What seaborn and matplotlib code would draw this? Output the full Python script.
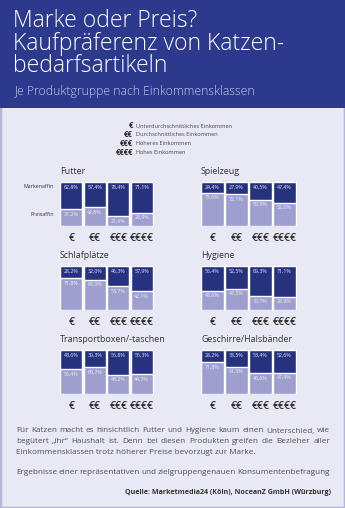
import seaborn as sns
import matplotlib.pyplot as plt
import pandas as pd
from matplotlib.patches import Rectangle

sns.set_style("white")
plt.rcParams['font.family'] = ['Open Sans', 'DejaVu Sans']

# ---------------------------
# Data
einkommen = ['€', '€€', '€€€', '€€€€']
einkommen_namen = ['Unterdurchschnittliches Einkommen', 'Durchschnittliches Einkommen',
                   'Höheres Einkommen', 'Hohes Einkommen']
gruppen = ['Futter', 'Spielzeug', 'Schlafplätze', 'Hygiene',
           'Transportboxen/-taschen', 'Geschirre/Halsbänder']

marke_futter = [62.8, 57.4, 78.4, 71.1]
preis_futter = [37.2, 42.6, 21.6, 28.9]
marke_spielzeug = [24.4, 27.9, 40.5, 47.4]
preis_spielzeug = [75.6, 72.1, 59.5, 52.6]
marke_schlaf = [28.2, 32.0, 46.3, 57.9]
preis_schlaf = [71.8, 68.0, 53.7, 42.1]
marke_hygiene = [56.4, 52.5, 69.3, 71.1]
preis_hygiene = [43.6, 47.5, 30.7, 28.9]
marke_transport = [43.6, 39.3, 56.8, 55.3]
preis_transport = [56.4, 60.7, 43.2, 44.7]
marke_geschirre = [28.2, 38.5, 53.4, 52.6]
preis_geschirre = [71.8, 61.5, 46.6, 47.4]

marke = [marke_futter, marke_spielzeug, marke_schlaf, marke_hygiene, marke_transport, marke_geschirre]
preis = [preis_futter, preis_spielzeug, preis_schlaf, preis_hygiene, preis_transport, preis_geschirre]

text_zeilen = [
    'Für Katzen macht es hinsichtlich Futter und Hygiene kaum einen Unterschied, wie',
    'begütert „ihr“ Haushalt ist. Denn bei diesen Produkten greifen die Bezieher aller',
    'Einkommensklassen trotz höherer Preise bevorzugt zur Marke.',
]
ergebnis = 'Ergebnisse einer repräsentativen und zielgruppengenauen Konsumentenbefragung'
quelle = 'Quelle: Marketmedia24 (Köln), NoceanZ GmbH (Würzburg)'

# ---------------------------
# Colours / layout helpers
page_bg = '#e9e8f5'
header_bg = '#2c398c'
dark = '#27327f'
light = '#9e9ecf'
W, H = 345, 508


def fx(px):
    return px / W


def fy(py):
    return 1 - py / H


fig = plt.figure(figsize=(3.45, 5.08), dpi=100)
fig.patch.set_facecolor(page_bg)

fig.patches.append(Rectangle((0, 0), 1, 1, transform=fig.transFigure, fill=False,
                             edgecolor='#b6b6d9', lw=2.5, zorder=0))
fig.patches.append(Rectangle((0, fy(108)), 1, 108 / H, transform=fig.transFigure,
                             facecolor=header_bg, edgecolor='none', zorder=1))

# Header
for i, t in enumerate(['Marke oder Preis?', 'Kaufpräferenz von Katzen-', 'bedarfsartikeln']):
    fig.text(fx(13), fy(21 + i * 22.5), t, fontsize=16.5, weight='light', color='white',
             va='center', ha='left')
fig.text(fx(14), fy(91), 'Je Produktgruppe nach Einkommensklassen', fontsize=8.7,
         weight='light', color='#c8cdf0', va='center')

# Legend
for i, (sym, name) in enumerate(zip(einkommen, einkommen_namen)):
    y = fy(126 + i * 8.8)
    fig.text(fx(133), y, sym, fontsize=5.6, weight='bold', color='#333333', ha='right', va='center')
    fig.text(fx(136.5), y, name, fontsize=4.1, color='#444444', ha='left', va='center')

# Panels
lefts = [59.5, 200.5]
widths = [94, 96]
bar_tops = [182, 266, 350]
bar_h = 43.5

for i, g in enumerate(gruppen):
    row, col = divmod(i, 2)
    top = bar_tops[row]
    ax = fig.add_axes([fx(lefts[col]), fy(top + bar_h), widths[col] / W, bar_h / H])
    df = pd.DataFrame({'klasse': einkommen, 'marke': marke[i], 'preis': preis[i]})
    df['gesamt'] = df['marke'] + df['preis']
    sns.barplot(data=df, x='klasse', y='gesamt', color=dark, saturation=1, width=0.92, ax=ax)
    sns.barplot(data=df, x='klasse', y='preis', color=light, saturation=1, width=0.92, ax=ax)
    for k, (m, p) in enumerate(zip(df['marke'], df['preis'])):
        ax.text(k, df['gesamt'][k] - 11, f'{m:.1f}%'.replace('.', ','), ha='center', va='center',
                fontsize=3.8, color='#e6e8ff')
        ax.text(k, p - 11, f'{p:.1f}%'.replace('.', ','), ha='center', va='center',
                fontsize=3.8, color='#f2f2fb')
    ax.set_xlim(-0.5, 3.5)
    ax.set_ylim(0, 100)
    ax.set_xlabel('')
    ax.set_ylabel('')
    ax.set_yticks([])
    ax.tick_params(axis='x', length=0, pad=5.5, labelsize=7.5, labelcolor='#2e2e2e')
    for lbl in ax.get_xticklabels():
        lbl.set_fontweight('semibold')
    ax.set_facecolor('none')
    sns.despine(ax=ax, left=True, bottom=True)
    fig.text(fx(lefts[col] + 0.5), fy(top - 11), g, fontsize=6.4, color='#333333',
             ha='left', va='center')
    if i == 0:
        fig.text(fx(54), fy(top + 5), 'Markenaffin', fontsize=3.8, color='#333333',
                 ha='right', va='center')
        fig.text(fx(54), fy(top + 33), 'Preisaffin', fontsize=3.8, color='#333333',
                 ha='right', va='center')

# Justified paragraph
renderer = fig.canvas.get_renderer()
x0, x1 = 16, 330


def text_width(s, **kw):
    t = fig.text(0, 0, s, **kw)
    w = t.get_window_extent(renderer).width
    t.remove()
    return w


def justify(line, py, last=False, **kw):
    if last:
        fig.text(fx(x0), fy(py), line, va='center', ha='left', **kw)
        return
    words = line.split()
    extra = (x1 - x0 - text_width(line, **kw)) / (len(words) - 1)
    for k, w in enumerate(words):
        x = x0
        if k:
            x += text_width(' '.join(words[:k]) + ' ', **kw) + k * extra
        fig.text(fx(x), fy(py), w, va='center', ha='left', **kw)


style = dict(fontsize=5.85, color='#505050')
for k, line in enumerate(text_zeilen):
    justify(line, 431 + k * 10.6, last=(k == len(text_zeilen) - 1), **style)
justify(ergebnis, 472, **style)
fig.text(fx(331), fy(492), quelle, fontsize=5.15, weight='bold', color='#333333',
         ha='right', va='center')

fig.savefig('out.png', dpi=100, facecolor=fig.get_facecolor())
